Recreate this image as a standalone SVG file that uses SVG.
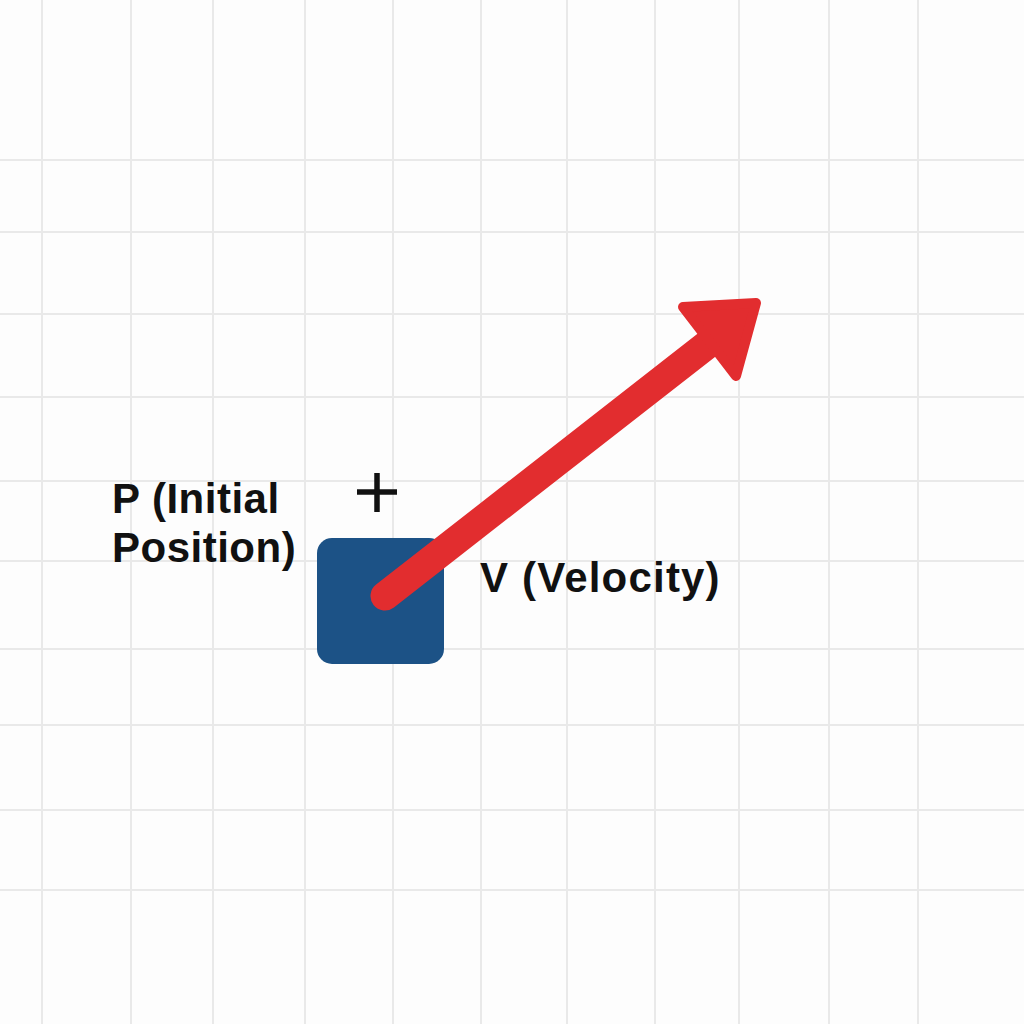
<svg xmlns="http://www.w3.org/2000/svg" width="1024" height="1024" viewBox="0 0 1024 1024">
  <style>
    .grid line { stroke: #e9e9e9; stroke-width: 2; }
    .label { font-family: "Liberation Sans", Arial, sans-serif; font-weight: bold; font-size: 42px; fill: #111111; }
    .arrow { stroke: #e22d2f; fill: #e22d2f; }
  </style>
  <rect width="1024" height="1024" fill="#fdfdfd"/>
  <g class="grid">
    <line x1="42" y1="0" x2="42" y2="1024"/>
    <line x1="131" y1="0" x2="131" y2="1024"/>
    <line x1="213" y1="0" x2="213" y2="1024"/>
    <line x1="305" y1="0" x2="305" y2="1024"/>
    <line x1="393" y1="0" x2="393" y2="1024"/>
    <line x1="481" y1="0" x2="481" y2="1024"/>
    <line x1="567" y1="0" x2="567" y2="1024"/>
    <line x1="655" y1="0" x2="655" y2="1024"/>
    <line x1="739" y1="0" x2="739" y2="1024"/>
    <line x1="829" y1="0" x2="829" y2="1024"/>
    <line x1="918" y1="0" x2="918" y2="1024"/>
    <line x1="0" y1="160" x2="1024" y2="160"/>
    <line x1="0" y1="232" x2="1024" y2="232"/>
    <line x1="0" y1="314" x2="1024" y2="314"/>
    <line x1="0" y1="397" x2="1024" y2="397"/>
    <line x1="0" y1="481" x2="1024" y2="481"/>
    <line x1="0" y1="561" x2="1024" y2="561"/>
    <line x1="0" y1="649" x2="1024" y2="649"/>
    <line x1="0" y1="725" x2="1024" y2="725"/>
    <line x1="0" y1="810" x2="1024" y2="810"/>
    <line x1="0" y1="890" x2="1024" y2="890"/>
  </g>
  <g id="object">
    <rect x="317" y="538" width="127" height="126" rx="15" fill="#1c5286"/>
  </g>
  <g id="marker">
    <line x1="357" y1="492" x2="397" y2="492" stroke="#111111" stroke-width="5.5"/>
    <line x1="377" y1="473" x2="377" y2="512" stroke="#111111" stroke-width="5.5"/>
  </g>
  <g id="label-p">
    <text class="label" x="112" y="513" letter-spacing="0.5">P (Initial</text>
    <text class="label" x="112" y="562" letter-spacing="0.5">Position)</text>
  </g>
  <g id="label-v">
    <text class="label" x="480" y="592" font-size="44" letter-spacing="1.2">V (Velocity)</text>
  </g>
  <g id="connectors">
    <line class="arrow" x1="385" y1="596" x2="708" y2="344" stroke-width="29" stroke-linecap="round"/>
    <polygon class="arrow" points="683,307 756,303 736,376" stroke-width="10" stroke-linejoin="round"/>
  </g>
</svg>
